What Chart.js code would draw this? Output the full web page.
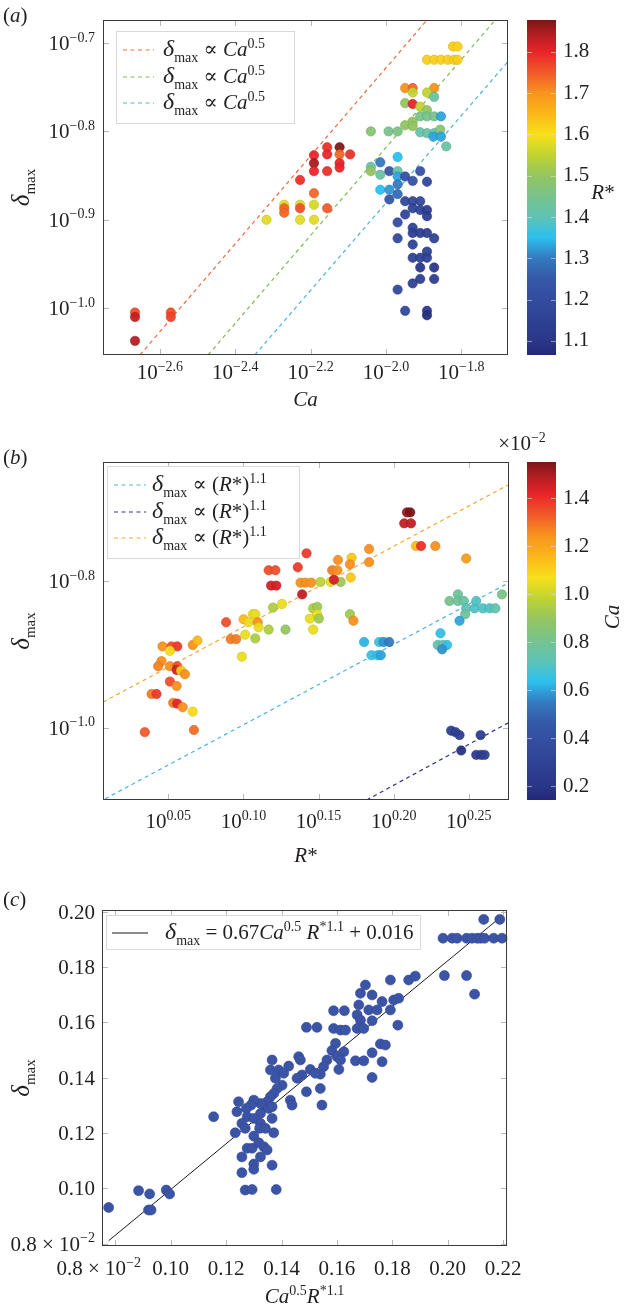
<!DOCTYPE html>
<html><head><meta charset="utf-8">
<script src="https://cdn.jsdelivr.net/npm/chart.js@4.4.1/dist/chart.umd.min.js"></script>
<style>
html,body{margin:0;padding:0;background:#fff;}
#wrap{position:relative;width:626px;height:1310px;overflow:hidden;background:#fff;}
canvas{position:absolute;}
</style></head><body><div id="wrap">
<canvas id="ma" width="626" height="420" style="left:0;top:0"></canvas>
<canvas id="ca" width="146" height="400" style="left:480px;top:0"></canvas>
<canvas id="mb" width="626" height="490" style="left:0;top:400px"></canvas>
<canvas id="cb" width="146" height="490" style="left:480px;top:400px"></canvas>
<canvas id="mc" width="626" height="420" style="left:0;top:890px"></canvas>
</div>
<script>
// ---------------- DATA ----------------
// Panel (a): log10(Ca), log10(delta_max), colour = R*
const aLogCa = [-2.666,-2.666,-2.666,-2.571,-2.571,
 -2.317,-2.270,-2.270,-2.270,-2.228,-2.228,-2.228,-2.191,-2.191,-2.191,-2.156,
 -2.228,-2.191,-2.191,-2.191,-2.156,-2.156,-2.156,-2.123,-2.123,-2.123,-2.123,-2.095,
 -1.822,-1.810,-1.891,-1.872,-1.854,-1.836,-1.819,-1.810,
 -1.949,-1.929,-1.872,-1.929,-1.891,-1.872,-1.949,-1.929,-1.909,-1.891,
 -1.909,-1.891,-1.872,-1.854,-1.929,-1.949,-1.929,
 -2.040,-1.993,-1.969,-1.909,-1.891,-1.872,-1.856,-1.874,-1.854,-1.840,
 -1.969,-2.015,-2.040,-2.040,-2.015,-1.991,-1.969,-1.969,-1.949,-1.909,-1.929,-1.891,
 -2.015,-1.991,-1.969,-1.969,-1.991,-1.949,-1.929,-1.909,-1.929,-1.909,-1.891,-1.891,-1.949,
 -1.969,-1.929,-1.929,-1.909,-1.891,-1.872,-1.969,-1.929,-1.929,-1.909,-1.891,-1.891,
 -1.909,-1.872,-1.909,-1.929,-1.872,-1.969,-1.949,-1.891,-1.891];
const aLogDelta = [-1.005,-1.010,-1.037,-1.005,-1.010,
 -0.900,-0.883,-0.887,-0.892,-0.883,-0.887,-0.900,-0.870,-0.883,-0.900,-0.887,
 -0.855,-0.827,-0.836,-0.845,-0.818,-0.826,-0.845,-0.818,-0.826,-0.836,-0.841,-0.826,
 -0.704,-0.704,-0.719,-0.719,-0.719,-0.719,-0.719,-0.719,
 -0.751,-0.751,-0.751,-0.756,-0.756,-0.761,-0.768,-0.769,-0.772,-0.776,
 -0.783,-0.783,-0.783,-0.783,-0.789,-0.793,-0.794,
 -0.800,-0.800,-0.800,-0.801,-0.802,-0.802,-0.798,-0.806,-0.806,-0.817,
 -0.829,-0.835,-0.840,-0.845,-0.849,-0.845,-0.845,-0.851,-0.851,-0.845,-0.856,-0.857,
 -0.866,-0.866,-0.860,-0.871,-0.877,-0.879,-0.879,-0.879,-0.887,-0.889,-0.889,-0.896,-0.894,
 -0.903,-0.909,-0.915,-0.915,-0.915,-0.921,-0.921,-0.928,-0.943,-0.943,-0.943,-0.936,
 -0.954,-0.954,-0.967,-0.972,-0.967,-0.979,-1.003,-1.003,-1.008];
const aRstar = [1.76,1.83,1.84,1.76,1.77,
 1.58,1.58,1.74,1.74,1.57,1.76,1.58,1.74,1.57,1.58,1.75,
 1.79,1.80,1.85,1.80,1.79,1.80,1.79,1.87,1.74,1.80,1.80,1.79,
 1.62,1.62,1.62,1.62,1.62,1.62,1.62,1.62,
 1.70,1.74,1.70,1.55,1.55,1.42,1.50,1.80,1.55,1.50,
 1.45,1.45,1.45,1.33,1.50,1.50,1.50,
 1.48,1.45,1.46,1.42,1.42,1.42,1.48,1.33,1.33,1.42,
 1.35,1.30,1.42,1.50,1.42,1.25,1.42,1.33,1.22,1.22,1.22,1.18,
 1.35,1.32,1.30,1.28,1.25,1.18,1.18,1.18,1.16,1.16,1.13,1.13,1.17,
 1.20,1.16,1.14,1.13,1.14,1.15,1.18,1.16,1.16,1.15,1.15,1.15,
 1.10,1.11,1.14,1.15,1.13,1.18,1.18,1.12,1.08];
const aFitRedX = [-2.653, -1.891], aFitRedY = [-1.053, -0.674];
const aFitGreenX = [-2.472, -1.714], aFitGreenY = [-1.053, -0.676];
const aFitBlueX = [-2.348, -1.676], aFitBlueY = [-1.053, -0.721];
const aXRange = [-2.751, -1.676], aYRange = [-1.053, -0.674];
const aXTicks = [-2.6, -2.4, -2.2, -2.0, -1.8];
const aYTicks = [-0.7, -0.8, -0.9, -1.0];
const aCbRange = [1.066, 1.877];
const aCbTicks = [1.1, 1.2, 1.3, 1.4, 1.5, 1.6, 1.7, 1.8];

// Panel (b): log10(R*), log10(delta_max), colour = Ca (x1e-2)
const bLogR = [0.0462,0.0522,0.0560,0.0511,0.0663,0.0694,0.0455,0.0433,0.0511,0.0560,0.0556,0.0585,0.0611,0.0511,0.0556,0.0389,0.0422,0.0533,0.0560,0.0596,0.0663,0.0671,0.0344,
 0.0885,0.0916,0.0952,0.0990,0.1012,0.1001,0.1035,0.1063,0.1079,0.1095,0.1101,0.1079,0.1168,0.1280,0.1197,0.1257,
 0.1168,0.1213,0.1184,0.1219,0.1362,0.1420,0.1391,0.1380,0.1413,0.1451,0.1513,0.1580,0.1647,0.1591,0.1625,0.1602,0.1629,0.1720,0.1709,0.1714,0.1836,0.1836,
 0.1464,0.1491,0.1442,0.1491,0.1502,0.1464,0.1709,0.1732,
 0.2088,0.2110,0.2070,0.2115,0.2148,0.2182,0.2277,0.2482,0.2720,
 0.2371,0.2427,0.2427,0.2467,0.2482,0.2538,0.2549,0.2594,0.2638,0.2676,0.2476,0.2438,0.2311,0.2293,0.2326,0.2355,0.2322,
 0.1803,0.1903,0.1932,0.1970,0.1852,0.1892,0.1914,
 0.2382,0.2411,0.2438,0.2578,0.2449,0.2549,0.2582,0.2605];
const bLogDelta = [-0.889,-0.889,-0.889,-0.895,-0.887,-0.881,-0.909,-0.916,-0.916,-0.916,-0.921,-0.922,-0.927,-0.937,-0.943,-0.954,-0.954,-0.966,-0.967,-0.972,-0.978,-1.003,-1.006,
 -0.856,-0.879,-0.879,-0.903,-0.873,-0.852,-0.856,-0.845,-0.845,-0.856,-0.863,-0.878,-0.866,-0.866,-0.836,-0.831,
 -0.785,-0.785,-0.806,-0.806,-0.781,-0.762,-0.818,-0.802,-0.802,-0.802,-0.801,-0.801,-0.801,-0.785,-0.785,-0.798,-0.771,-0.768,-0.777,-0.795,-0.756,-0.774,
 -0.837,-0.835,-0.851,-0.845,-0.851,-0.866,-0.845,-0.854,
 -0.706,-0.706,-0.721,-0.721,-0.752,-0.752,-0.752,-0.769,-0.818,
 -0.827,-0.818,-0.827,-0.827,-0.837,-0.837,-0.827,-0.837,-0.837,-0.837,-0.845,-0.854,-0.871,-0.887,-0.887,-0.887,-0.893,
 -0.883,-0.883,-0.883,-0.883,-0.901,-0.901,-0.901,
 -1.004,-1.006,-1.010,-1.010,-1.031,-1.037,-1.037,-1.037];
const bCa = [1.25,1.35,1.38,1.08,1.25,1.15,1.25,1.27,1.25,1.35,1.45,1.12,1.25,1.35,1.25,1.28,1.38,1.28,1.42,1.25,1.08,1.30,1.33,
 1.35,1.28,1.28,1.05,1.05,1.15,1.05,1.05,1.05,1.25,1.05,0.95,0.95,0.90,0.95,1.05,
 1.35,1.35,1.45,1.45,1.38,1.38,1.47,1.25,1.25,1.25,0.98,1.05,0.92,1.28,1.25,1.45,1.25,1.12,1.25,1.12,1.25,1.25,
 0.95,0.92,1.05,1.05,0.92,1.05,0.92,1.25,
 1.52,1.55,1.47,1.47,1.15,1.40,1.25,1.22,0.82,
 0.80,0.78,0.78,0.76,0.72,0.70,0.70,0.70,0.70,0.74,0.78,0.60,0.65,0.74,0.76,0.65,0.58,
 0.62,0.66,0.58,0.55,0.66,0.64,0.60,
 0.28,0.28,0.27,0.26,0.18,0.26,0.26,0.28];
const bFitBlueX = [0.0080, 0.2767], bFitBlueY = [-1.097, -0.802];
const bFitNavyX = [0.182, 0.2767], bFitNavyY = [-1.0986, -0.9927];
const bFitOrangeX = [0.0066, 0.2767], bFitOrangeY = [-0.965, -0.668];
const bXRange = [0.0066, 0.2767], bYRange = [-1.0986, -0.6373];
const bXTicks = [0.05, 0.10, 0.15, 0.20, 0.25];
const bYTicks = [-0.8, -1.0];
const bCbRange = [0.143, 1.551];
const bCbTicks = [0.2, 0.4, 0.6, 0.8, 1.0, 1.2, 1.4];

// Panel (c): Ca^0.5 R*^1.1 vs delta_max
const cX = [0.0776,0.0884,0.0924,0.0920,0.0929,0.0984,0.0996,0.1155,0.2130,0.2188,
 0.1983,0.2016,0.2034,0.2068,0.2088,0.2106,0.2118,0.2133,0.2166,0.2196,0.1988,0.2068,0.2097,
 0.1703,0.1793,0.1859,0.1883,0.1685,0.1727,0.1679,0.1715,0.1745,0.1763,0.1805,0.1823,0.1793,
 0.1588,0.1627,0.1673,0.1685,0.1727,0.1673,0.1697,0.1588,0.1613,0.1631,0.1820,0.1490,0.1528,
 0.1595,0.1582,0.1625,0.1601,0.1613,0.1607,0.1564,0.1552,0.1540,0.1667,0.1697,0.1727,0.1757,0.1775,0.1763,0.1727,
 0.1540,0.1490,0.1546,0.1462,0.1468,0.1426,0.1366,0.1360,0.1390,0.1408,0.1504,0.1474,0.1456,0.1522,
 0.1378,0.1402,0.1384,0.1372,0.1360,0.1348,0.1342,0.1324,0.1300,0.1290,0.1245,0.1239,0.1273,0.1324,0.1354,0.1366,0.1432,0.1438,
 0.1276,0.1300,0.1366,0.1324,0.1257,0.1269,0.1233,0.1321,0.1342,0.1372,0.1300,0.1318,0.1336,0.1276,0.1294,0.1348,
 0.1257,0.1324,0.1300,0.1366,0.1300,0.1257,0.1269,0.1294,0.1381];
const cY = [0.0931,0.0992,0.0980,0.0922,0.0922,0.0994,0.0980,0.1259,0.1972,0.1972,
 0.1904,0.1904,0.1904,0.1904,0.1904,0.1904,0.1904,0.1904,0.1904,0.1904,0.1769,0.1769,0.1702,
 0.1735,0.1753,0.1753,0.1767,0.1705,0.1699,0.1663,0.1645,0.1645,0.1675,0.1681,0.1687,0.1645,
 0.1642,0.1642,0.1627,0.1608,0.1606,0.1578,0.1578,0.1578,0.1572,0.1572,0.1590,0.1582,0.1582,
 0.1524,0.1498,0.1494,0.1476,0.1464,0.1430,0.1464,0.1440,0.1413,0.1461,0.1461,0.1490,0.1522,0.1518,0.1458,0.1401,
 0.1361,0.1349,0.1301,0.1476,0.1464,0.1442,0.1464,0.1428,0.1428,0.1416,0.1430,0.1410,0.1398,0.1416,
 0.1398,0.1373,0.1361,0.1343,0.1331,0.1313,0.1295,0.1307,0.1319,0.1301,0.1313,0.1277,0.1289,0.1271,0.1289,0.1295,0.1319,0.1301,
 0.1259,0.1253,0.1253,0.1235,0.1235,0.1217,0.1201,0.1217,0.1217,0.1201,0.1189,0.1165,0.1151,0.1145,0.1145,0.1139,
 0.1114,0.1114,0.1088,0.1084,0.1069,0.1057,0.0994,0.0996,0.0996];
const cFitX = [0.0776, 0.2193], cFitY = [0.0811, 0.1982];
const cXRange = [0.0752, 0.2214], cYRange = [0.0792, 0.2006];
const cXTicks = [0.08, 0.10, 0.12, 0.14, 0.16, 0.18, 0.20, 0.22];
const cYTicks = [0.08, 0.10, 0.12, 0.14, 0.16, 0.18, 0.20];

// ---------------- HELPERS ----------------
const SERIF = '"Liberation Serif","DejaVu Serif","Times New Roman",serif';
const INK = '#231f20';
function segs(ctx, parts, S) {
  return parts.map(([t, k]) => {
    let f, dy = 0; const sm = Math.round(S * 0.66);
    if (k === 'n') f = `${S}px ${SERIF}`;
    else if (k === 'i') f = `italic ${S}px ${SERIF}`;
    else if (k === 'd') f = `italic ${Math.round(S * 1.15)}px ${SERIF}`;
    else if (k === 's') { f = `${sm}px ${SERIF}`; dy = -S * 0.4; }
    else if (k === 'b') { f = `${sm}px ${SERIF}`; dy = S * 0.28; }
    ctx.font = f;
    return { t, f, dy, w: ctx.measureText(t).width };
  });
}
function drawRich(ctx, parts, x, y, align, S, color) {
  const ss = segs(ctx, parts, S);
  const W = ss.reduce((a, s) => a + s.w, 0);
  let cx = align === 'center' ? x - W / 2 : align === 'right' ? x - W : x;
  ctx.fillStyle = color || INK; ctx.textAlign = 'left'; ctx.textBaseline = 'alphabetic';
  ss.forEach(s => { ctx.font = s.f; ctx.fillText(s.t, cx, y + s.dy); cx += s.w; });
  return W;
}
const CMAP = [[0,'#242878'],[0.042,'#2a3689'],[0.165,'#334c9f'],[0.227,'#3558a8'],[0.289,'#3479bf'],[0.35,'#2cc0ef'],[0.412,'#5ec3b6'],[0.473,'#78c38c'],[0.535,'#93c561'],[0.597,'#c0d431'],[0.658,'#f8e01b'],[0.72,'#fbb718'],[0.782,'#f7941d'],[0.843,'#f15a29'],[0.905,'#e9242a'],[0.967,'#a81c20'],[1,'#761717']];
function hex(h) { return [parseInt(h.slice(1,3),16), parseInt(h.slice(3,5),16), parseInt(h.slice(5,7),16)]; }
function cmapRGB(t) {
  t = Math.max(0, Math.min(1, t));
  for (let i = 1; i < CMAP.length; i++) {
    if (t <= CMAP[i][0]) {
      const [t0, c0] = CMAP[i-1], [t1, c1] = CMAP[i];
      const u = (t - t0) / (t1 - t0), a = hex(c0), b = hex(c1);
      return a.map((v, j) => Math.round(v + (b[j] - v) * u));
    }
  }
  return hex(CMAP[CMAP.length-1][1]);
}
const rgbStr = (c, k = 1, al = 1) => `rgba(${Math.round(c[0]*k)},${Math.round(c[1]*k)},${Math.round(c[2]*k)},${al})`;
const zip = (xs, ys) => xs.map((x, i) => ({ x, y: ys[i] }));
const minus = s => s.replace('-', '\u2212');

function fitLine(xs, ys, color, dash) {
  return { type: 'scatter', data: zip(xs, ys), showLine: true, borderColor: color, borderWidth: 1.2,
    borderDash: dash, pointRadius: 0, fill: false, order: 2 };
}
function pointSet(xs, ys, vals, range, r) {
  const cols = vals ? vals.map(v => cmapRGB((v - range[0]) / (range[1] - range[0]))) : null;
  return { type: 'scatter', data: zip(xs, ys), order: 1, clip: false,
    pointRadius: r, pointBorderWidth: 0.6,
    pointBackgroundColor: cols ? cols.map(c => rgbStr(c, 1, 0.95)) : 'rgba(59,84,165,1)',
    pointBorderColor: cols ? cols.map(c => rgbStr(c, 0.85, 0.9)) : 'rgba(50,72,150,1)' };
}

function decorPlugin(cfg) {
  return {
    id: 'decor',
    afterDatasetsDraw(chart) {
      const ctx = chart.ctx, ca = chart.chartArea, xs = chart.scales.x, ys = chart.scales.y;
      ctx.save();
      ctx.strokeStyle = '#b8b8b8'; ctx.lineWidth = 1;
      ctx.beginPath();
      cfg.xTicks.forEach(v => { const p = Math.round(xs.getPixelForValue(v)) + 0.5;
        ctx.moveTo(p, ca.bottom); ctx.lineTo(p, ca.bottom - 6); ctx.moveTo(p, ca.top); ctx.lineTo(p, ca.top + 6); });
      cfg.yTicks.forEach(v => { const p = Math.round(ys.getPixelForValue(v)) + 0.5;
        ctx.moveTo(ca.left, p); ctx.lineTo(ca.left + 6, p); ctx.moveTo(ca.right, p); ctx.lineTo(ca.right - 6, p); });
      ctx.stroke();
      ctx.strokeStyle = '#3a3a3a'; ctx.lineWidth = 1;
      ctx.strokeRect(Math.round(ca.left) + 0.5, Math.round(ca.top) + 0.5, Math.round(ca.width) - 1, Math.round(ca.height) - 1);
      cfg.xTicks.forEach(v => {
        const p = xs.getPixelForValue(v), lab = cfg.xLabel(v);
        if (lab.align === 'right') drawRich(ctx, lab.parts, lab.x, cfg.xLabY, 'right', 21);
        else drawRich(ctx, lab.parts, p, cfg.xLabY, 'center', 21);
      });
      cfg.yTicks.forEach(v => {
        const p = ys.getPixelForValue(v);
        drawRich(ctx, cfg.yLabel(v), 95, p + 7, 'right', 21);
      });
      drawRich(ctx, cfg.xTitle, (ca.left + ca.right) / 2, cfg.xTitleY, 'center', 21);
      ctx.save(); ctx.translate(29, (ca.top + ca.bottom) / 2); ctx.rotate(-Math.PI / 2);
      drawRich(ctx, [['\u03b4', 'd'], ['max', 'b']], 0, 0, 'center', 22);
      ctx.restore();
      drawRich(ctx, [['(', 'n'], [cfg.letter, 'i'], [')', 'n']], 3, cfg.letterY, 'left', 21);
      const L = cfg.legend;
      ctx.fillStyle = '#ffffff'; ctx.fillRect(L.box[0], L.box[1], L.box[2], L.box[3]);
      ctx.strokeStyle = '#d9d9d9'; ctx.lineWidth = 1;
      ctx.strokeRect(L.box[0] + 0.5, L.box[1] + 0.5, L.box[2], L.box[3]);
      L.items.forEach((it, i) => {
        const ds = chart.data.datasets[it.ds], yy = L.rows[i];
        ctx.save(); ctx.strokeStyle = ds.borderColor; ctx.lineWidth = ds.borderWidth;
        ctx.setLineDash(ds.borderDash || []);
        ctx.beginPath(); ctx.moveTo(L.lx[0], yy); ctx.lineTo(L.lx[1], yy); ctx.stroke(); ctx.restore();
        drawRich(ctx, it.parts, L.tx, yy + 6, 'left', 21);
      });
      ctx.restore();
    }
  };
}

function makeMain(id, pad, xr, yr, datasets, cfg) {
  return new Chart(document.getElementById(id), {
    type: 'scatter',
    data: { datasets },
    options: {
      responsive: false, animation: false, devicePixelRatio: 1, events: [],
      layout: { padding: pad, autoPadding: false },
      plugins: { legend: { display: false }, tooltip: { enabled: false } },
      scales: {
        x: { type: 'linear', min: xr[0], max: xr[1], display: false },
        y: { type: 'linear', min: yr[0], max: yr[1], display: false }
      }
    },
    plugins: [decorPlugin(cfg)]
  });
}

function makeColorbar(id, pad, range, ticks, fmt, extra) {
  return new Chart(document.getElementById(id), {
    type: 'bar',
    data: { labels: ['cb'], datasets: [{ data: [[range[0], range[1]]], borderWidth: 0, barPercentage: 1, categoryPercentage: 1,
      backgroundColor: (c) => {
        const ca = c.chart.chartArea; if (!ca) return '#888';
        const g = c.chart.ctx.createLinearGradient(0, ca.bottom, 0, ca.top);
        CMAP.forEach(([t, col]) => g.addColorStop(t, col));
        return g;
      } }] },
    options: {
      responsive: false, animation: false, devicePixelRatio: 1, events: [],
      layout: { padding: pad, autoPadding: false },
      plugins: { legend: { display: false }, tooltip: { enabled: false } },
      scales: {
        x: { display: false },
        y: { position: 'right', min: range[0], max: range[1],
          grid: { display: false, drawTicks: false }, border: { display: false },
          afterBuildTicks: s => { s.ticks = ticks.map(v => ({ value: v })); },
          afterFit: s => { s.width = 70; },
          ticks: { padding: 7, color: INK, font: { family: SERIF, size: 21 }, callback: v => fmt(v) } }
      }
    },
    plugins: [{ id: 'cbdecor', afterDraw(chart) {
      const ctx = chart.ctx, ca = chart.chartArea, ys = chart.scales.y;
      ctx.save(); ctx.strokeStyle = 'rgba(225,225,225,0.55)'; ctx.lineWidth = 1; ctx.beginPath();
      ticks.forEach(v => { const p = Math.round(ys.getPixelForValue(v)) + 0.5;
        ctx.moveTo(ca.left, p); ctx.lineTo(ca.left + 5, p); ctx.moveTo(ca.right, p); ctx.lineTo(ca.right - 5, p); });
      ctx.stroke(); ctx.restore();
      extra(ctx, ca);
    } }]
  });
}

// ---------------- PANEL (a) ----------------
const delta = [['\u03b4', 'd'], ['max', 'b']];
const legA = [...delta, [' \u221d ', 'n'], ['Ca', 'i'], ['0.5', 's']];
makeMain('ma', { left: 103, right: 118, top: 20, bottom: 65 }, aXRange, aYRange, [
  pointSet(aLogCa, aLogDelta, aRstar, aCbRange, 4.7),
  fitLine(aFitRedX, aFitRedY, '#ef6a3c', [4, 3.5]),
  fitLine(aFitGreenX, aFitGreenY, '#7cbd4f', [4, 3.5]),
  fitLine(aFitBlueX, aFitBlueY, '#4cb1e3', [4, 3.5])
], {
  xTicks: aXTicks, yTicks: aYTicks,
  xLabel: v => ({ parts: [['10', 'n'], [minus(v.toFixed(1)), 's']] }),
  yLabel: v => [['10', 'n'], [minus(v.toFixed(1)), 's']],
  xLabY: 379, xTitle: [['Ca', 'i']], xTitleY: 406, letter: 'a', letterY: 22,
  legend: { box: [116, 31, 178, 92], rows: [50, 77, 103], lx: [123, 154], tx: 163,
    items: [{ ds: 1, parts: legA }, { ds: 2, parts: legA }, { ds: 3, parts: legA }] }
});
makeColorbar('ca', { left: 47, right: 0, top: 20, bottom: 45 }, aCbRange, aCbTicks, v => v.toFixed(1), (ctx, ca) => {
  drawRich(ctx, [['R', 'i'], ['*', 'n']], 123, 199, 'center', 21);
});

// ---------------- PANEL (b) ----------------
const legB = [...delta, [' \u221d (', 'n'], ['R', 'i'], ['*)', 'n'], ['1.1', 's']];
makeMain('mb', { left: 103, right: 117, top: 62, bottom: 90 }, bXRange, bYRange, [
  pointSet(bLogR, bLogDelta, bCa, bCbRange, 4.7),
  fitLine(bFitBlueX, bFitBlueY, '#4cb1e3', [4, 3.5]),
  fitLine(bFitNavyX, bFitNavyY, '#2e3192', [4, 3.5]),
  fitLine(bFitOrangeX, bFitOrangeY, '#f7a734', [4, 3.5])
], {
  xTicks: bXTicks, yTicks: bYTicks,
  xLabel: v => ({ parts: [['10', 'n'], [v.toFixed(2), 's']] }),
  yLabel: v => [['10', 'n'], [minus(v.toFixed(1)), 's']],
  xLabY: 428, xTitle: [['R', 'i'], ['*', 'n']], xTitleY: 462, letter: 'b', letterY: 64,
  legend: { box: [107, 66, 192, 92], rows: [85, 112, 138], lx: [114, 146], tx: 152,
    items: [{ ds: 1, parts: legB }, { ds: 2, parts: legB }, { ds: 3, parts: legB }] }
});
makeColorbar('cb', { left: 47, right: 0, top: 62, bottom: 90 }, bCbRange, bCbTicks, v => v.toFixed(1), (ctx, ca) => {
  drawRich(ctx, [['\u00d710', 'n'], ['\u22122', 's']], 42, 50, 'center', 21);
  ctx.save(); ctx.translate(139, 217); ctx.rotate(-Math.PI / 2);
  drawRich(ctx, [['Ca', 'i']], 0, 0, 'center', 21); ctx.restore();
});

// ---------------- PANEL (c) ----------------
const small = [['0.8 \u00d7 10', 'n'], ['\u22122', 's']];
makeMain('mc', { left: 102, right: 119, top: 20, bottom: 64 }, cXRange, cYRange, [
  pointSet(cX, cY, null, null, 5),
  { type: 'scatter', data: zip(cFitX, cFitY), showLine: true, borderColor: '#1a1a1a', borderWidth: 1, pointRadius: 0, order: 2 }
], {
  xTicks: cXTicks, yTicks: cYTicks,
  xLabel: v => v < 0.09 ? { parts: small, align: 'right', x: 141 } : { parts: [[v.toFixed(2), 'n']] },
  yLabel: v => v < 0.09 ? small : [[v.toFixed(2), 'n']],
  xLabY: 385, xTitle: [['Ca', 'i'], ['0.5', 's'], ['R', 'i'], ['*1.1', 's']], xTitleY: 413, letter: 'c', letterY: 16,
  legend: { box: [106, 25, 314, 34], rows: [43], lx: [112, 148], tx: 165,
    items: [{ ds: 1, parts: [...delta, [' = 0.67', 'n'], ['Ca', 'i'], ['0.5', 's'], [' ', 'n'], ['R', 'i'], ['*1.1', 's'], [' + 0.016', 'n']] }] }
});
</script></body></html>
